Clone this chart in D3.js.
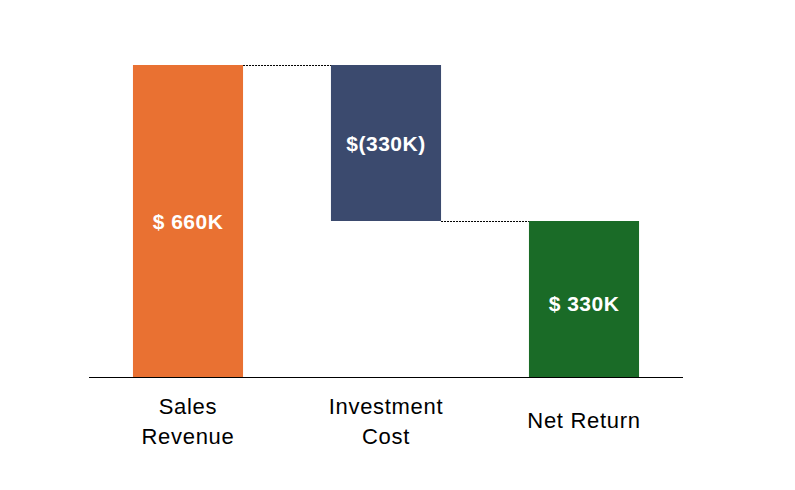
<!DOCTYPE html>
<html>
<head>
<meta charset="utf-8">
<script src="https://cdn.jsdelivr.net/npm/d3@7"></script>
<style>
  body { margin: 0; background: #fff; }
  svg { display: block; font-family: "Liberation Sans", Arial, sans-serif; }
</style>
</head>
<body>
<div id="chart"></div>
<script>
// Data
const categories = [["Sales", "Revenue"], ["Investment", "Cost"], ["Net Return"]];
const values = [660, -330, 330];          // in $K
const kinds = ["total", "delta", "total"];
const labels = ["$ 660K", "$(330K)", "$ 330K"];
const colors = ["#E97132", "#3B4A6E", "#1A6B27"];

const W = 795, H = 490;
const svg = d3.select("#chart").append("svg")
  .attr("width", W)
  .attr("height", H);

// Compute waterfall start/end
let running = 0;
const bars = values.map((v, i) => {
  let y0, y1;
  if (kinds[i] === "total") { y0 = 0; y1 = v; running = v; }
  else { y0 = running; y1 = running + v; running = y1; }
  return { i, y0, y1, label: labels[i], color: colors[i], cat: categories[i] };
});

const x = d3.scaleBand()
  .domain(d3.range(categories.length))
  .range([89, 683])
  .paddingInner(0.444)
  .paddingOuter(0.222);

const y = d3.scaleLinear()
  .domain([0, 660])
  .range([377, 65]);

// Bars
svg.selectAll("rect.bar")
  .data(bars)
  .enter().append("rect")
  .attr("class", "bar")
  .attr("x", d => x(d.i))
  .attr("y", d => y(Math.max(d.y0, d.y1)))
  .attr("width", x.bandwidth())
  .attr("height", d => Math.abs(y(d.y0) - y(d.y1)))
  .attr("fill", d => d.color);

// Connectors
svg.selectAll("line.conn")
  .data(bars.slice(0, -1))
  .enter().append("line")
  .attr("class", "conn")
  .attr("x1", d => x(d.i) + x.bandwidth())
  .attr("x2", d => x(d.i + 1))
  .attr("y1", d => y(d.y1) + 0.5)
  .attr("y2", d => y(d.y1) + 0.5)
  .attr("stroke", "#000")
  .attr("stroke-width", 1)
  .attr("stroke-dasharray", "2,1");

// Value labels
svg.selectAll("text.val")
  .data(bars)
  .enter().append("text")
  .attr("class", "val")
  .attr("x", d => x(d.i) + x.bandwidth() / 2)
  .attr("y", d => (y(d.y0) + y(d.y1)) / 2 + (d.i === 2 ? 4 : 0))
  .attr("text-anchor", "middle")
  .attr("dominant-baseline", "central")
  .attr("fill", "#fff")
  .attr("font-size", "21px")
  .attr("font-weight", "bold")
  .attr("letter-spacing", "0.5px")
  .text(d => d.label);

// Axis line
svg.append("line")
  .attr("x1", 89).attr("x2", 683)
  .attr("y1", 377.5).attr("y2", 377.5)
  .attr("stroke", "#000")
  .attr("stroke-width", 1);

// Category labels
const cat = svg.selectAll("text.cat")
  .data(bars)
  .enter().append("text")
  .attr("class", "cat")
  .attr("text-anchor", "middle")
  .attr("font-size", "22px")
  .attr("letter-spacing", "0.7px")
  .attr("fill", "#000");

cat.each(function(d) {
  const t = d3.select(this);
  const cx = x(d.i) + x.bandwidth() / 2;
  const startY = d.cat.length === 1 ? 428 : 414;
  d.cat.forEach((line, k) => {
    t.append("tspan")
      .attr("x", cx)
      .attr("y", startY + k * 30)
      .text(line);
  });
});
</script>
</body>
</html>
